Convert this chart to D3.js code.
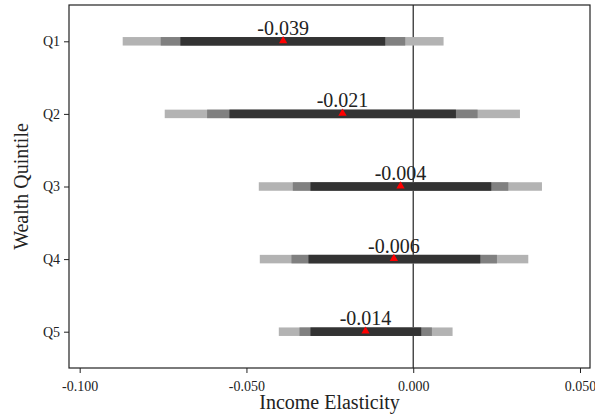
<!DOCTYPE html>
<html>
<head>
<meta charset="utf-8">
<script src="https://cdn.jsdelivr.net/npm/d3@7"></script>
<style>
  html, body { margin: 0; padding: 0; background: #fff; }
  svg { display: block; font-family: "Liberation Serif", "Times New Roman", serif; }
</style>
</head>
<body>
<svg id="chart" width="595" height="420"></svg>
<script>
// ---- data ----
const categories = ["Q1", "Q2", "Q3", "Q4", "Q5"];
const estimates  = [-0.0390, -0.0212, -0.0038, -0.0058, -0.0143];
const ci99Low    = [-0.0871, -0.0745, -0.0463, -0.0460, -0.0403];
const ci99High   = [ 0.0091,  0.0320,  0.0386,  0.0345,  0.0118];
const ci95Low    = [-0.0757, -0.0618, -0.0361, -0.0365, -0.0341];
const ci95High   = [-0.0024,  0.0193,  0.0285,  0.0251,  0.0056];
const ci90Low    = [-0.0698, -0.0551, -0.0308, -0.0314, -0.0308];
const ci90High   = [-0.0084,  0.0128,  0.0234,  0.0201,  0.0024];
const xTicks     = [-0.10, -0.05, 0.00, 0.05];
const xTitle = "Income Elasticity";
const yTitle = "Wealth Quintile";

// ---- layout ----
const svg = d3.select("#chart");
const plot = { left: 69, right: 590, top: 5, bottom: 368 };

const x = d3.scaleLinear().domain([-0.1032, 0.0530]).range([plot.left, plot.right]);
const y = d3.scalePoint().domain(categories).range([plot.top, plot.bottom]).padding(0.5);

// hyphen-minus formatting like the original
const fmt = d3.formatLocale({ decimal: ".", thousands: ",", grouping: [3], currency: ["", ""], minus: "-" }).format(".3f");

// zero reference line
svg.append("line")
  .attr("x1", x(0)).attr("x2", x(0))
  .attr("y1", plot.top).attr("y2", plot.bottom)
  .attr("stroke", "#222").attr("stroke-width", 1.2);

const barH = 8.5;
const layers = [
  { lo: ci99Low, hi: ci99High, color: "#b3b3b3" },
  { lo: ci95Low, hi: ci95High, color: "#808080" },
  { lo: ci90Low, hi: ci90High, color: "#333333" }
];
layers.forEach(L => {
  svg.append("g").selectAll("rect")
    .data(categories)
    .join("rect")
    .attr("x", (d, i) => x(L.lo[i]))
    .attr("width", (d, i) => x(L.hi[i]) - x(L.lo[i]))
    .attr("y", d => y(d) - barH / 2)
    .attr("height", barH)
    .attr("fill", L.color);
});

// point estimates (red triangles)
svg.append("g").selectAll("path")
  .data(categories)
  .join("path")
  .attr("d", d3.symbol(d3.symbolTriangle, 30))
  .attr("transform", (d, i) => `translate(${x(estimates[i])},${y(d) - 0.5})`)
  .attr("fill", "#ff0000");

// value labels
svg.append("g").selectAll("text")
  .data(categories)
  .join("text")
  .attr("x", (d, i) => x(estimates[i]))
  .attr("y", d => y(d) - 6.5)
  .attr("text-anchor", "middle")
  .attr("font-size", 20)
  .attr("fill", "#222")
  .text((d, i) => fmt(estimates[i]));

// frame
svg.append("rect")
  .attr("x", plot.left).attr("y", plot.top)
  .attr("width", plot.right - plot.left).attr("height", plot.bottom - plot.top)
  .attr("fill", "none").attr("stroke", "#222").attr("stroke-width", 1.2);

// x axis
const xAxis = svg.append("g")
  .attr("transform", `translate(0,${plot.bottom})`)
  .call(d3.axisBottom(x).tickValues(xTicks).tickFormat(fmt).tickSize(5).tickSizeOuter(0).tickPadding(8));
xAxis.select(".domain").remove();
xAxis.selectAll("line").attr("stroke", "#222");
xAxis.selectAll("text").attr("font-size", 14).attr("fill", "#222")
  .attr("font-family", "'Liberation Serif', 'Times New Roman', serif");

// y axis
const yAxis = svg.append("g")
  .attr("transform", `translate(${plot.left},0)`)
  .call(d3.axisLeft(y).tickSize(5).tickSizeOuter(0).tickPadding(4));
yAxis.select(".domain").remove();
yAxis.selectAll("line").attr("stroke", "#222");
yAxis.selectAll("text").attr("font-size", 14).attr("fill", "#222")
  .attr("font-family", "'Liberation Serif', 'Times New Roman', serif");

// axis titles
svg.append("text")
  .attr("x", (plot.left + plot.right) / 2)
  .attr("y", 409)
  .attr("text-anchor", "middle")
  .attr("font-size", 20)
  .attr("fill", "#222")
  .text(xTitle);

svg.append("text")
  .attr("transform", `translate(28,${(plot.top + plot.bottom) / 2}) rotate(-90)`)
  .attr("text-anchor", "middle")
  .attr("font-size", 20)
  .attr("fill", "#222")
  .text(yTitle);
</script>
</body>
</html>
